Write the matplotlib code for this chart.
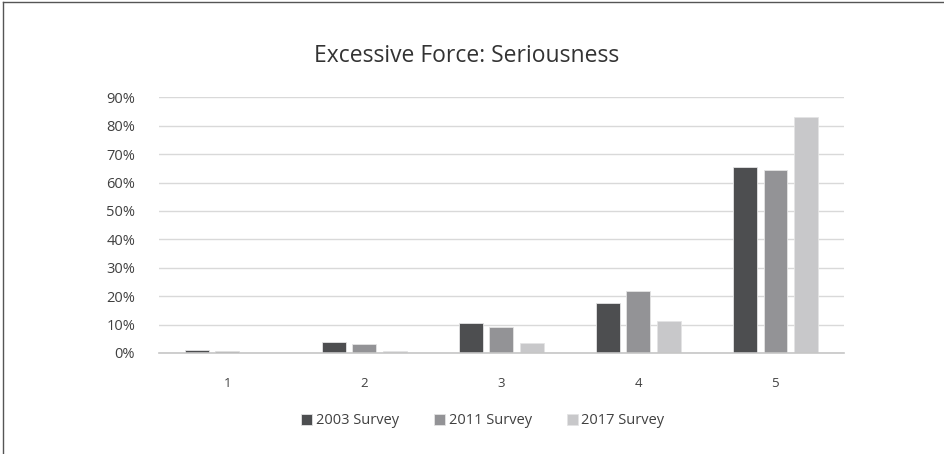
import numpy as np
import matplotlib.pyplot as plt
from matplotlib.ticker import PercentFormatter
from matplotlib.lines import Line2D

plt.rcParams['font.family'] = ['Open Sans', 'DejaVu Sans']

# Seriousness ratings (1 = least serious, 5 = most serious)
categories = ['1', '2', '3', '4', '5']
survey_2003 = [0.010, 0.040, 0.106, 0.175, 0.655]
survey_2011 = [0.007, 0.031, 0.092, 0.219, 0.645]
survey_2017 = [0.000, 0.006, 0.035, 0.114, 0.830]
series_names = ['2003 Survey', '2011 Survey', '2017 Survey']
colors = ['#4d4e50', '#939396', '#c8c8ca']

fig = plt.figure(figsize=(9.45, 4.54), dpi=100)
ax = fig.add_axes([0.168, 0.2225, 0.725, 0.5632])

x = np.arange(len(categories))
width = 0.173
step = 0.222
for i, (vals, name, col) in enumerate(zip([survey_2003, survey_2011, survey_2017], series_names, colors)):
    ax.bar(x + (i - 1) * step, vals, width, color=col, label=name,
           edgecolor='#e4e4e4', linewidth=0.6, zorder=3)

ax.set_xlim(-0.5, len(categories) - 0.5)
ax.set_ylim(0, 0.9)
ax.set_yticks(np.arange(0, 0.91, 0.1))
ax.yaxis.set_major_formatter(PercentFormatter(1.0, decimals=0))
ax.set_xticks(x)
ax.set_xticklabels(categories)

ax.grid(axis='y', color='#d9d9d9', linewidth=1.0, zorder=0)
for s in ['top', 'right', 'left']:
    ax.spines[s].set_visible(False)
ax.spines['bottom'].set_color('#c6c6c6')
ax.spines['bottom'].set_linewidth(1.2)
ax.spines['bottom'].set_zorder(4)
ax.tick_params(axis='both', length=0, colors='#404040')
ax.tick_params(axis='y', labelsize=10.5, pad=17)
ax.tick_params(axis='x', labelsize=9.5, pad=17)

fig.text(0.494, 0.876, 'Excessive Force: Seriousness', ha='center', va='center',
         fontsize=16.5, color='#333333')

handles, labels = ax.get_legend_handles_labels()
fig.legend(handles, labels, loc='center', bbox_to_anchor=(0.511, 0.073), ncol=3,
           frameon=False, fontsize=10.5, handlelength=0.75, handleheight=0.75,
           handletextpad=0.25, columnspacing=2.4, labelcolor='#404040')

# thin frame along the top and left edges
fig.add_artist(Line2D([0.003, 1.0], [0.995, 0.995], transform=fig.transFigure,
                      color='#555555', linewidth=1.0))
fig.add_artist(Line2D([0.003, 0.003], [0.0, 0.995], transform=fig.transFigure,
                      color='#555555', linewidth=1.0))

fig.savefig('out.png', dpi=100, facecolor='white')
